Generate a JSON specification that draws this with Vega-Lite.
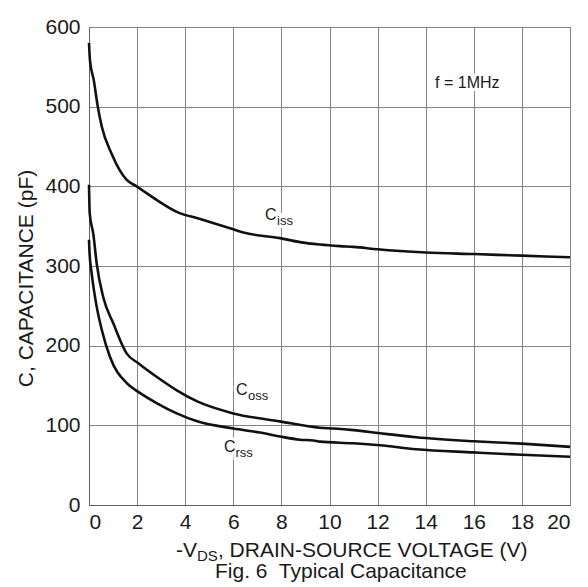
{
  "$schema": "https://vega.github.io/schema/vega-lite/v6.json",
  "autosize": {"type": "none"},
  "padding": {"left": 89, "top": 27, "right": 18, "bottom": 82},
  "width": 481,
  "height": 478,
  "background": "white",
  "datasets": {
    "curves": [
      {"series": "Ciss", "v": 0, "c": 580}, {"series": "Ciss", "v": 0.04, "c": 558}, {"series": "Ciss", "v": 0.2, "c": 533},
      {"series": "Ciss", "v": 0.36, "c": 501}, {"series": "Ciss", "v": 0.53, "c": 475}, {"series": "Ciss", "v": 0.94, "c": 441},
      {"series": "Ciss", "v": 1.57, "c": 408}, {"series": "Ciss", "v": 1.98, "c": 400}, {"series": "Ciss", "v": 2.81, "c": 383},
      {"series": "Ciss", "v": 3.65, "c": 368}, {"series": "Ciss", "v": 4.62, "c": 359}, {"series": "Ciss", "v": 6.0, "c": 346},
      {"series": "Ciss", "v": 6.42, "c": 342}, {"series": "Ciss", "v": 7.94, "c": 335}, {"series": "Ciss", "v": 8.77, "c": 330},
      {"series": "Ciss", "v": 9.6, "c": 327}, {"series": "Ciss", "v": 10.44, "c": 325}, {"series": "Ciss", "v": 11.0, "c": 324},
      {"series": "Ciss", "v": 12.0, "c": 321}, {"series": "Ciss", "v": 14.0, "c": 317}, {"series": "Ciss", "v": 16.0, "c": 315},
      {"series": "Ciss", "v": 18.0, "c": 313}, {"series": "Ciss", "v": 20, "c": 311},
      {"series": "Coss", "v": 0, "c": 402}, {"series": "Coss", "v": 0.03, "c": 366}, {"series": "Coss", "v": 0.18, "c": 340},
      {"series": "Coss", "v": 0.32, "c": 303}, {"series": "Coss", "v": 0.59, "c": 261}, {"series": "Coss", "v": 1.01, "c": 228},
      {"series": "Coss", "v": 1.57, "c": 190}, {"series": "Coss", "v": 2.05, "c": 178}, {"series": "Coss", "v": 2.81, "c": 161},
      {"series": "Coss", "v": 3.65, "c": 144}, {"series": "Coss", "v": 4.5, "c": 130}, {"series": "Coss", "v": 6.0, "c": 115},
      {"series": "Coss", "v": 7.94, "c": 105}, {"series": "Coss", "v": 9.6, "c": 97}, {"series": "Coss", "v": 10.2, "c": 96},
      {"series": "Coss", "v": 11.0, "c": 94}, {"series": "Coss", "v": 12.1, "c": 90}, {"series": "Coss", "v": 13.6, "c": 85},
      {"series": "Coss", "v": 16.0, "c": 80}, {"series": "Coss", "v": 18.0, "c": 77}, {"series": "Coss", "v": 20, "c": 73},
      {"series": "Crss", "v": 0, "c": 333}, {"series": "Crss", "v": 0.02, "c": 318}, {"series": "Crss", "v": 0.11, "c": 291},
      {"series": "Crss", "v": 0.32, "c": 249}, {"series": "Crss", "v": 0.53, "c": 220}, {"series": "Crss", "v": 0.87, "c": 186},
      {"series": "Crss", "v": 1.57, "c": 153}, {"series": "Crss", "v": 2.05, "c": 142}, {"series": "Crss", "v": 2.81, "c": 128},
      {"series": "Crss", "v": 3.65, "c": 115}, {"series": "Crss", "v": 4.5, "c": 105}, {"series": "Crss", "v": 6.0, "c": 96},
      {"series": "Crss", "v": 7.1, "c": 91}, {"series": "Crss", "v": 7.94, "c": 86}, {"series": "Crss", "v": 8.77, "c": 82},
      {"series": "Crss", "v": 9.33, "c": 81}, {"series": "Crss", "v": 9.6, "c": 79.5}, {"series": "Crss", "v": 11.0, "c": 77.5},
      {"series": "Crss", "v": 12.1, "c": 75}, {"series": "Crss", "v": 13.6, "c": 70}, {"series": "Crss", "v": 16.0, "c": 66},
      {"series": "Crss", "v": 18.0, "c": 63}, {"series": "Crss", "v": 20, "c": 60.6}
    ],
    "notes": [
      {"text": "-V", "v": 3.62, "c": -65.3, "role": "big"},
      {"text": "DS", "v": 4.49, "c": -70.3, "role": "titlesub"},
      {"text": ", DRAIN-SOURCE VOLTAGE (V)", "v": 5.36, "c": -65.3, "role": "big"},
      {"text": "Fig. 6\u00a0 Typical Capacitance", "v": 5.24, "c": -91.6, "role": "big"},
      {"text": "f = 1MHz", "v": 14.39, "c": 523.4, "role": "mid"},
      {"text": "C", "v": 7.32, "c": 357.7, "role": "mid"},
      {"text": "iss", "v": 7.82, "c": 351.4, "role": "small"},
      {"text": "C", "v": 6.11, "c": 138.1, "role": "mid"},
      {"text": "oss", "v": 6.61, "c": 132.4, "role": "small"},
      {"text": "C", "v": 5.61, "c": 66.5, "role": "mid"},
      {"text": "rss", "v": 6.09, "c": 60.2, "role": "small"}
    ]
  },
  "layer": [
    {
      "data": {"name": "curves"},
      "mark": {"type": "line", "color": "#111111", "strokeWidth": 2.6, "interpolate": "monotone", "clip": false},
      "encoding": {
        "x": {"field": "v", "type": "quantitative", "scale": {"domain": [0, 20], "nice": false, "zero": false},
          "axis": {"values": [0, 2, 4, 6, 8, 10, 12, 14, 16, 18, 20], "title": null, "labelPadding": 6}},
        "y": {"field": "c", "type": "quantitative", "scale": {"domain": [0, 600], "nice": false},
          "axis": {"values": [0, 100, 200, 300, 400, 500, 600], "title": "C, CAPACITANCE (pF)", "labelPadding": 9,
            "titleAngle": 270, "titleX": -57, "titleY": 251, "titleAlign": "center", "titleBaseline": "alphabetic"}},
        "detail": {"field": "series", "type": "nominal"}
      }
    },
    {
      "data": {"name": "notes"},
      "transform": [{"filter": "datum.role === 'mid'"}],
      "mark": {"type": "text", "align": "left", "baseline": "alphabetic", "fontSize": 16, "stroke": "white", "strokeWidth": 6, "fill": "white", "clip": false},
      "encoding": {"x": {"field": "v", "type": "quantitative"}, "y": {"field": "c", "type": "quantitative"}, "text": {"field": "text"}}
    },
    {
      "data": {"name": "notes"},
      "transform": [{"filter": "datum.role === 'small'"}],
      "mark": {"type": "text", "align": "left", "baseline": "alphabetic", "fontSize": 13, "stroke": "white", "strokeWidth": 6, "fill": "white", "clip": false},
      "encoding": {"x": {"field": "v", "type": "quantitative"}, "y": {"field": "c", "type": "quantitative"}, "text": {"field": "text"}}
    },
    {
      "data": {"name": "notes"},
      "transform": [{"filter": "datum.role === 'mid'"}],
      "mark": {"type": "text", "align": "left", "baseline": "alphabetic", "fontSize": 16, "color": "#1a1a1a", "clip": false},
      "encoding": {"x": {"field": "v", "type": "quantitative"}, "y": {"field": "c", "type": "quantitative"}, "text": {"field": "text"}}
    },
    {
      "data": {"name": "notes"},
      "transform": [{"filter": "datum.role === 'small'"}],
      "mark": {"type": "text", "align": "left", "baseline": "alphabetic", "fontSize": 13, "color": "#1a1a1a", "clip": false},
      "encoding": {"x": {"field": "v", "type": "quantitative"}, "y": {"field": "c", "type": "quantitative"}, "text": {"field": "text"}}
    },
    {
      "data": {"name": "notes"},
      "transform": [{"filter": "datum.role === 'big'"}],
      "mark": {"type": "text", "align": "left", "baseline": "alphabetic", "fontSize": 21, "color": "#1a1a1a", "clip": false},
      "encoding": {"x": {"field": "v", "type": "quantitative"}, "y": {"field": "c", "type": "quantitative"}, "text": {"field": "text"}}
    },
    {
      "data": {"name": "notes"},
      "transform": [{"filter": "datum.role === 'titlesub'"}],
      "mark": {"type": "text", "align": "left", "baseline": "alphabetic", "fontSize": 15, "color": "#1a1a1a", "clip": false},
      "encoding": {"x": {"field": "v", "type": "quantitative"}, "y": {"field": "c", "type": "quantitative"}, "text": {"field": "text"}}
    }
  ],
  "config": {
    "font": "Liberation Sans",
    "view": {"stroke": "#707070", "strokeWidth": 1},
    "axis": {
      "grid": true, "gridColor": "#858585", "gridOpacity": 1, "gridWidth": 1,
      "domainColor": "#606060", "domainWidth": 1,
      "ticks": false, "tickSize": 0,
      "labelFontSize": 21, "labelColor": "#1a1a1a", "labelFont": "Liberation Sans",
      "titleFontSize": 21, "titleFontWeight": "normal", "titleColor": "#1a1a1a", "titleFont": "Liberation Sans"
    }
  }
}
